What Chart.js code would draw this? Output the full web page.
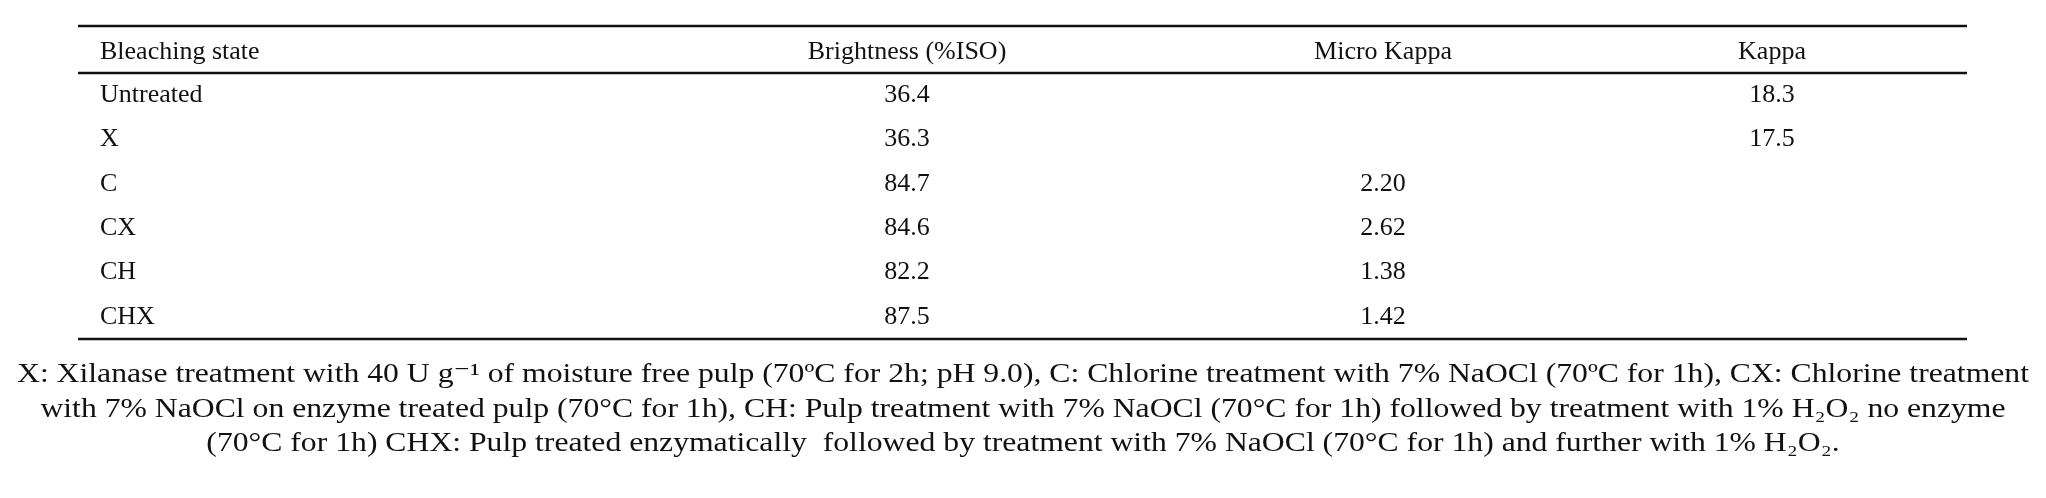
<!DOCTYPE html>
<html><head><meta charset="utf-8">
<script src="https://cdn.jsdelivr.net/npm/chart.js@4"></script>
<style>html,body{margin:0;padding:0;background:#fff}#wrap{width:2046px;height:498px}</style>
</head><body><div id="wrap"><canvas id="c"></canvas></div>
<script>
const headers = ["Bleaching state", "Brightness (%ISO)", "Micro Kappa", "Kappa"];
const states = ["Untreated", "X", "C", "CX", "CH", "CHX"];
const brightness = ["36.4", "36.3", "84.7", "84.6", "82.2", "87.5"];
const microKappa = ["", "", "2.20", "2.62", "1.38", "1.42"];
const kappa = ["18.3", "17.5", "", "", "", ""];
const caption = [
  "X: Xilanase treatment with 40 U g\u207B\u00B9 of moisture free pulp (70ºC for 2h; pH 9.0), C: Chlorine treatment with 7% NaOCl (70ºC for 1h), CX: Chlorine treatment",
  "with 7% NaOCl on enzyme treated pulp (70°C for 1h), CH: Pulp treatment with 7% NaOCl (70°C for 1h) followed by treatment with 1% H\u2082O\u2082 no enzyme",
  "(70°C for 1h) CHX: Pulp treated enzymatically  followed by treatment with 7% NaOCl (70°C for 1h) and further with 1% H\u2082O\u2082."
];
const FONT = '26px "Liberation Serif", "DejaVu Serif", serif';
const CAPFONT = '27px "Liberation Serif", "DejaVu Serif", serif';
const tablePlugin = {
  id: 'table',
  afterDraw(chart) {
    const ctx = chart.ctx, a = chart.chartArea, ys = chart.scales.y;
    const colX = [a.left + 22, 907, 1383, 1772];
    ctx.save();
    ctx.fillStyle = '#111'; ctx.strokeStyle = '#111';
    ctx.lineWidth = 2.5;
    [26, a.top, a.bottom].forEach(y => { ctx.beginPath(); ctx.moveTo(a.left, y); ctx.lineTo(a.right, y); ctx.stroke(); });
    ctx.font = FONT; ctx.textBaseline = 'middle';
    headers.forEach((h, i) => { ctx.textAlign = i === 0 ? 'left' : 'center'; ctx.fillText(h, colX[i], 52); });
    const cols = [states, brightness, microKappa, kappa];
    states.forEach((s, r) => {
      const y = ys.getPixelForValue(r);
      cols.forEach((col, i) => { ctx.textAlign = i === 0 ? 'left' : 'center'; ctx.fillText(col[r], colX[i], y); });
    });
    ctx.font = CAPFONT; ctx.textAlign = 'center';
    const sx = 2012 / ctx.measureText(caption[0]).width;
    caption.forEach((t, i) => {
      ctx.save(); ctx.translate(1023, 375 + i * 34.5); ctx.scale(sx, 1);
      ctx.fillText(t, 0, 0); ctx.restore();
    });
    ctx.restore();
  }
};
new Chart(document.getElementById('c'), {
  type: 'bar',
  data: { labels: states, datasets: [{ data: states.map(() => null) }] },
  options: {
    indexAxis: 'y', responsive: true, maintainAspectRatio: false, animation: false,
    layout: { padding: { left: 78, right: 2046 - 1967, top: 73, bottom: 498 - 339 } },
    plugins: { legend: { display: false }, tooltip: { enabled: false } },
    scales: { y: { type: 'category', display: false, offset: true }, x: { display: false, min: 0, max: 1 } }
  },
  plugins: [tablePlugin]
});
</script></body></html>
